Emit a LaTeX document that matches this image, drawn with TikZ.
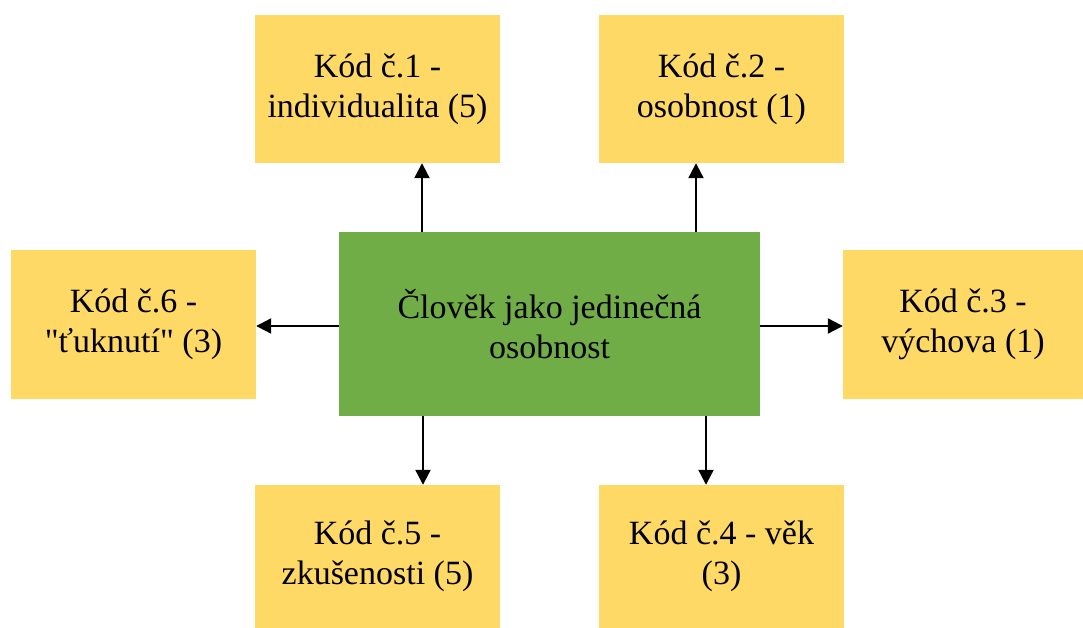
\documentclass[tikz,border=0pt]{standalone}
\usepackage{fontspec}
\setmainfont{Liberation Serif}[Ligatures=TeXOff]
\usetikzlibrary{arrows.meta}
\definecolor{codefill}{RGB}{255,217,102}
\definecolor{corefill}{RGB}{112,173,71}
\tikzset{
  codebox/.style={rectangle, fill=codefill, draw=none, inner sep=0pt,
    minimum width=245pt, minimum height=148pt, align=center,
    font=\fontsize{34}{40}\selectfont},
  corebox/.style={rectangle, fill=corefill, draw=none, inner sep=0pt,
    minimum width=421pt, minimum height=184pt, align=center,
    font=\fontsize{34}{40}\selectfont},
  link/.style={line width=2.2pt, -{Triangle[length=15pt,width=15pt]}}
}
\begin{document}
\begin{tikzpicture}[x=1pt, y=-1pt]
  \useasboundingbox (0,0) rectangle (1083,628);
  \fill[white] (0,0) rectangle (1083,628);

  % central theme
  \node[corebox] (core) at (549.5,324) {Člověk jako jedinečná\\osobnost};

  % codes around it
  \node[codebox] (k1) at (377.5,89) {Kód č.1 -\\individualita (5)};
  \node[codebox] (k2) at (721.5,89) {Kód č.2 -\\osobnost (1)};
  \node[codebox, minimum width=240pt, minimum height=149pt] (k3) at (963,324.5) {Kód č.3 -\\výchova (1)};
  \node[codebox, minimum height=143pt] (k4) at (721.5,556.5) {Kód č.4 - věk\\(3)};
  \node[codebox, minimum height=143pt] (k5) at (377.5,556.5) {Kód č.5 -\\zkušenosti (5)};
  \node[codebox, minimum height=149pt] (k6) at (133.5,324.5) {Kód č.6 -\\"ťuknutí" (3)};

  % connector columns and row
  \coordinate (c1) at (422,0);
  \coordinate (c2) at (696,0);
  \coordinate (c4) at (706,0);
  \coordinate (c5) at (423,0);
  \coordinate (r0) at (0,326);

  \draw[link] (c1 |- core.north) -- (c1 |- k1.south);
  \draw[link] (c2 |- core.north) -- (c2 |- k2.south);
  \draw[link] (core.east |- r0) -- (k3.west |- r0);
  \draw[link] (c4 |- core.south) -- (c4 |- k4.north);
  \draw[link] (c5 |- core.south) -- (c5 |- k5.north);
  \draw[link] (core.west |- r0) -- (k6.east |- r0);
\end{tikzpicture}
\end{document}
